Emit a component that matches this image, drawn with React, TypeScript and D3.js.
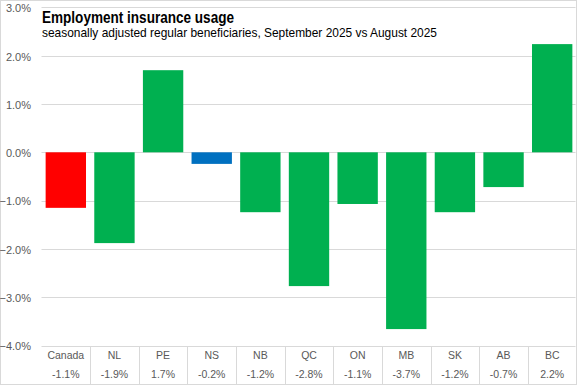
import React from "react";
import * as d3 from "d3";

const categories = ["Canada", "NL", "PE", "NS", "NB", "QC", "ON", "MB", "SK", "AB", "BC"];
const values = [-1.15, -1.88, 1.70, -0.24, -1.24, -2.77, -1.07, -3.66, -1.24, -0.72, 2.24];
const valueLabels = ["-1.1%", "-1.9%", "1.7%", "-0.2%", "-1.2%", "-2.8%", "-1.1%", "-3.7%", "-1.2%", "-0.7%", "2.2%"];
const barColors = ["#FF0000", "#00B050", "#00B050", "#0070C0", "#00B050", "#00B050", "#00B050", "#00B050", "#00B050", "#00B050", "#00B050"];
const yTicks = [3, 2, 1, 0, -1, -2, -3, -4];
const title = "Employment insurance usage";
const subtitle = "seasonally adjusted regular beneficiaries, September 2025 vs August 2025";

const W = 577;
const H = 385;
const plotLeft = 41.5;
const plotRight = 576.5;
const yTop = 7.4;
const yBottom = 345.5;

export default function App() {
  const x = d3.scaleBand<string>().domain(categories).range([plotLeft, plotRight]).paddingInner(0.17).paddingOuter(0.085);
  const y = d3.scaleLinear().domain([-4, 3]).range([yBottom, yTop]);
  const fmt = (v: number) => d3.format(".1f")(v) + "%";
  const step = x.step();
  const grid = "#D9D9D9";
  const font = "'Liberation Sans', Arial, sans-serif";
  return (
    <svg width={W} height={H} style={{ position: "fixed", left: 0, top: 0, background: "#fff" }} fontFamily={font}>
      <rect x={0.5} y={0.5} width={W - 1} height={H - 1} fill="#fff" stroke={grid} />
      {yTicks.map((t) => (
        <g key={t}>
          <line x1={plotLeft} x2={plotRight - 1} y1={Math.round(y(t)) + 0.5} y2={Math.round(y(t)) + 0.5} stroke={grid} />
          <text x={31} y={y(t) + 1} dy="0.35em" textAnchor="end" fontSize={11} fill="#595959">{fmt(t)}</text>
        </g>
      ))}
      {categories.map((c, i) => {
        const v = values[i];
        const y0 = y(0);
        const yv = y(v);
        return (
          <rect key={c} x={x(c)} width={x.bandwidth()} y={Math.min(y0, yv)} height={Math.abs(yv - y0)} fill={barColors[i]} />
        );
      })}
      {categories.slice(1).map((c) => {
        const bx = Math.round((x(c) as number) - (step - x.bandwidth()) / 2) + 0.5;
        return <line key={"sep" + c} x1={bx} x2={bx} y1={Math.round(yBottom) + 0.5} y2={H} stroke={grid} />;
      })}
      {categories.map((c, i) => {
        const cx = (x(c) as number) + x.bandwidth() / 2;
        return (
          <g key={"lab" + c}>
            <text x={cx} y={355} dy="0.35em" textAnchor="middle" fontSize={10.5} fill="#595959">{c}</text>
            <text x={cx} y={374.5} dy="0.35em" textAnchor="middle" fontSize={10.5} fill="#595959">{valueLabels[i]}</text>
          </g>
        );
      })}
      <text x={42} y={23.3} fontSize={16} fontWeight="bold" fill="#000" textLength={192} lengthAdjust="spacingAndGlyphs">{title}</text>
      <text x={42} y={36.7} fontSize={13} fill="#000" textLength={395} lengthAdjust="spacingAndGlyphs">{subtitle}</text>
    </svg>
  );
}
